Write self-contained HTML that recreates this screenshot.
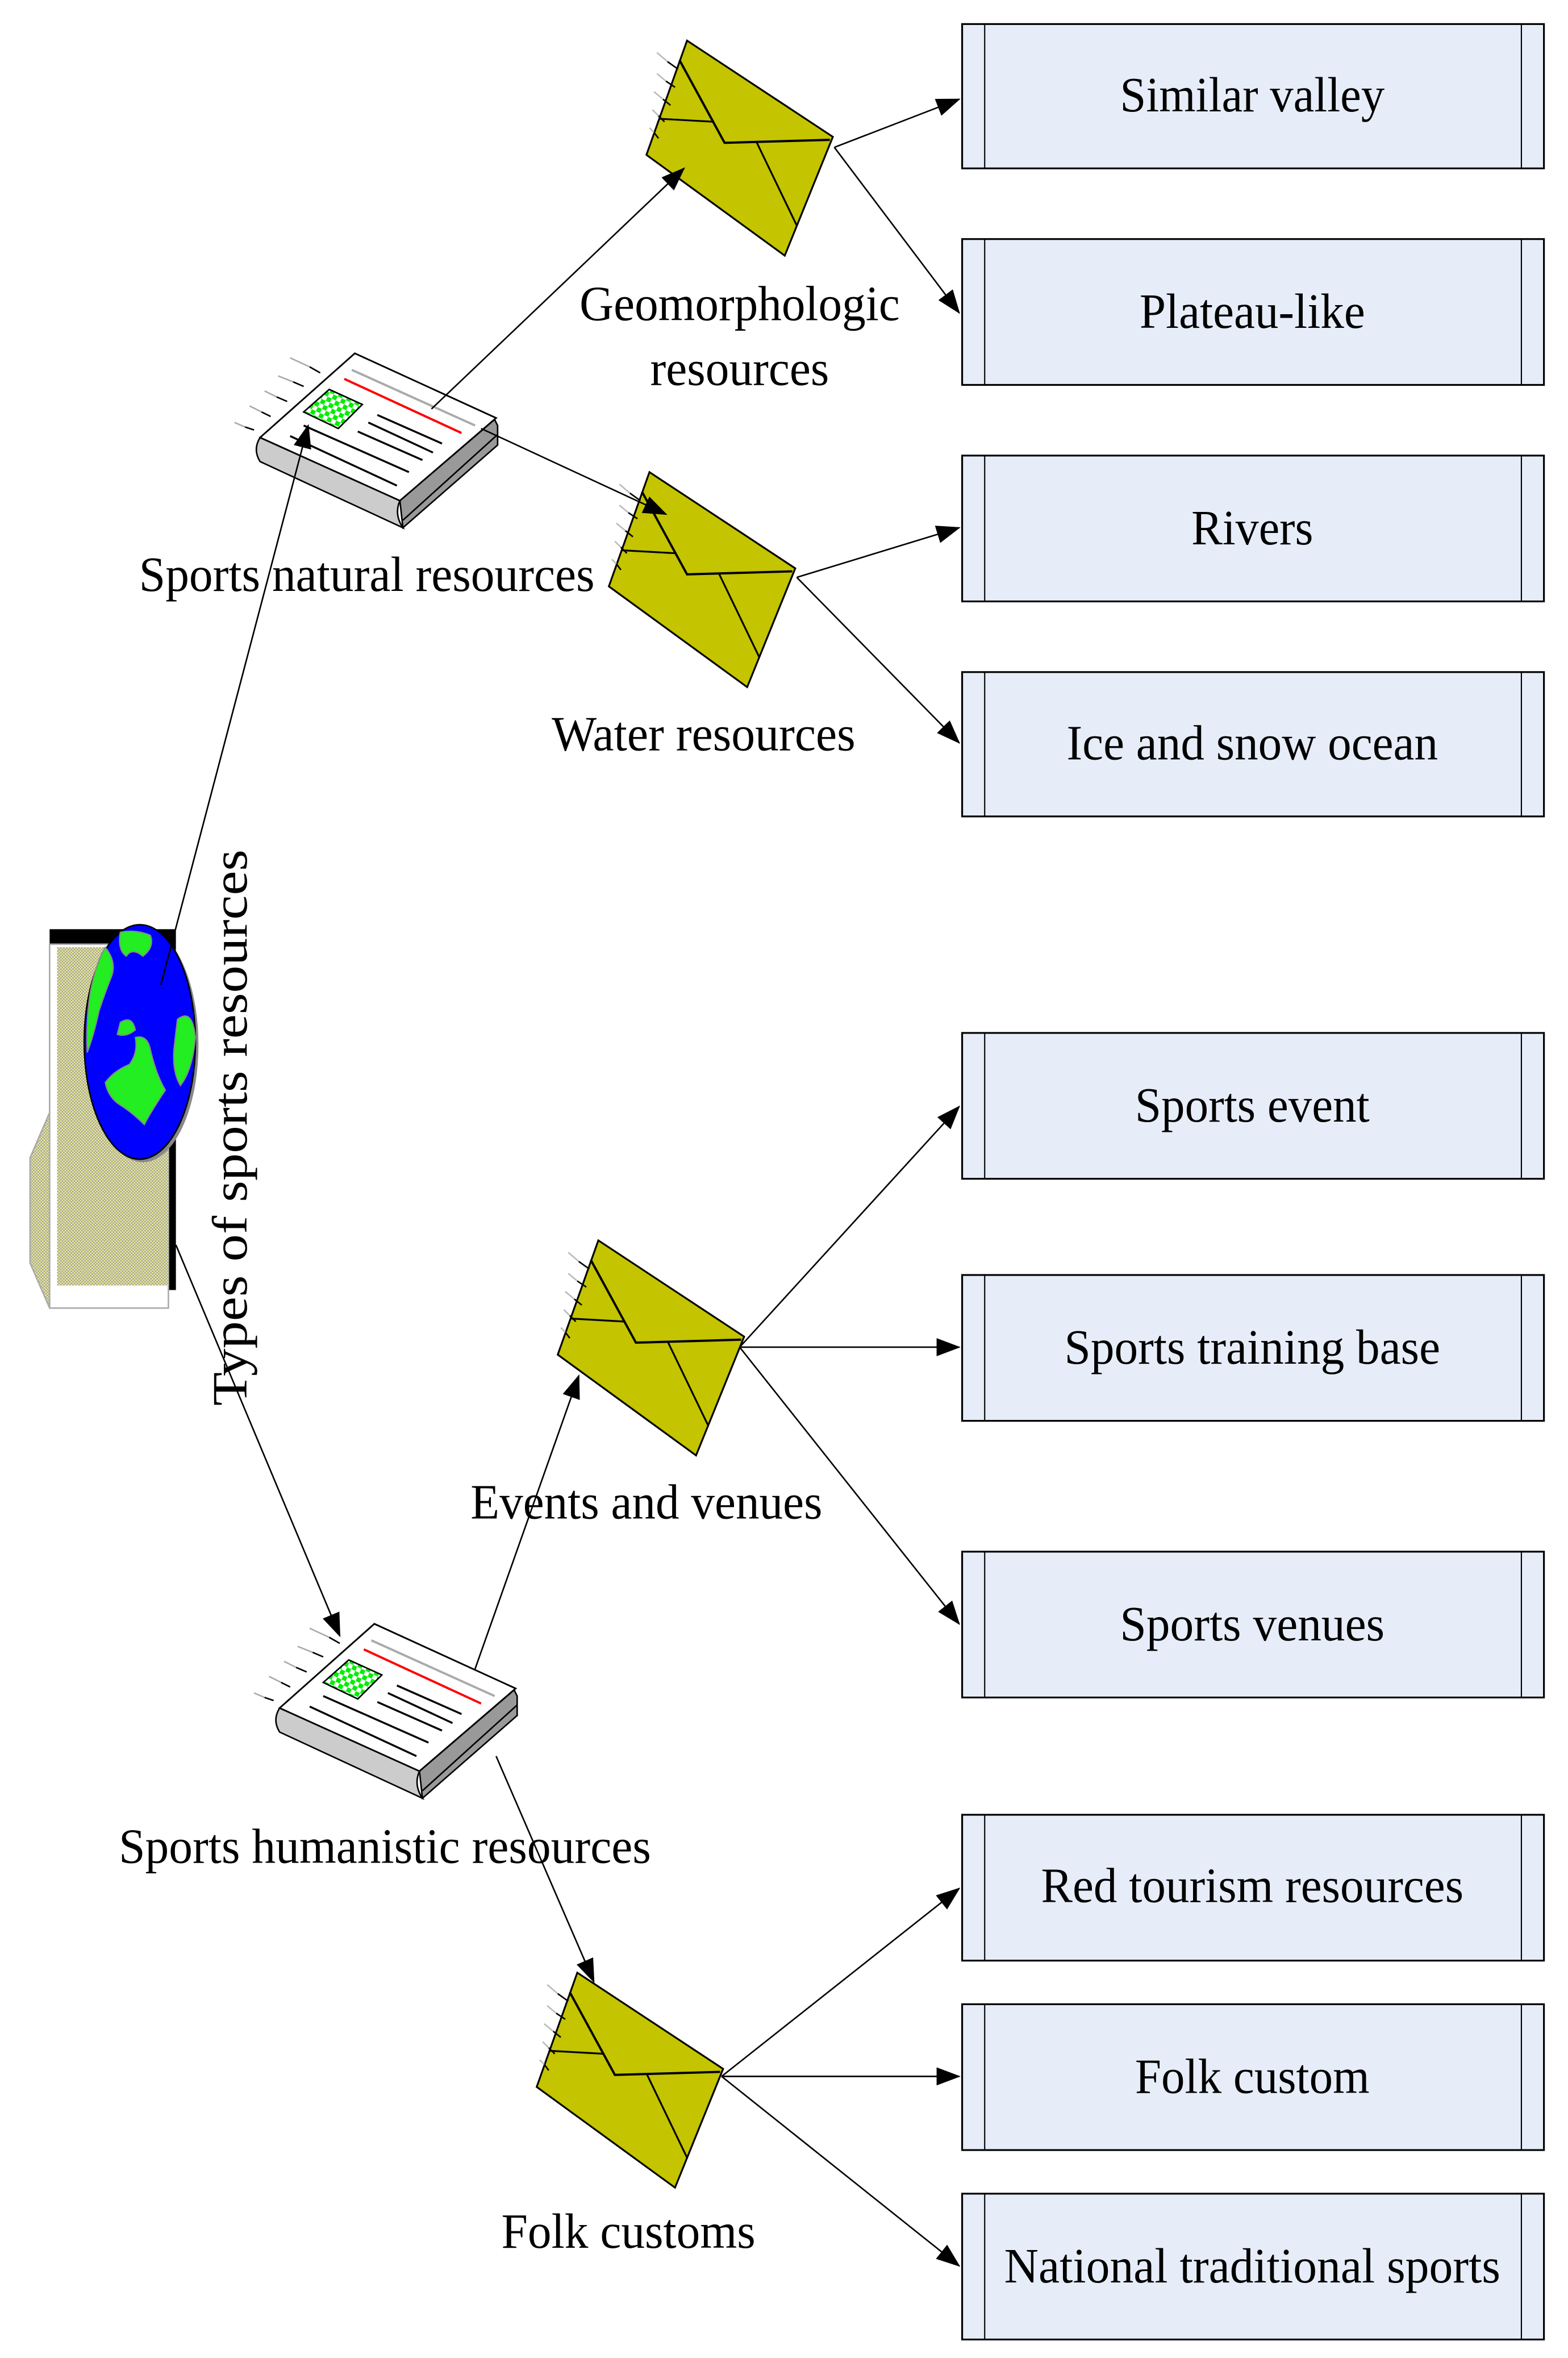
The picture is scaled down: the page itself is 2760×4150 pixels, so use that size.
<!DOCTYPE html>
<html><head><meta charset="utf-8"><style>
html,body{margin:0;padding:0;background:#fff}
svg{display:block}
text{font-family:"Liberation Serif",serif;font-size:33px;fill:#000}
</style></head><body>
<svg width="2760" height="4150" viewBox="0 0 1043 1568.3" xmlns="http://www.w3.org/2000/svg">
<defs>
<marker id="ah" markerWidth="16" markerHeight="12" refX="15" refY="6" orient="auto" markerUnits="userSpaceOnUse">
<path d="M0,0 L16,6 L0,12 Z" fill="#000"/></marker>
<pattern id="gck" width="6" height="6" patternUnits="userSpaceOnUse" patternTransform="rotate(25)">
<rect width="6" height="6" fill="#fff"/><rect width="3" height="3" fill="#00ee00"/><rect x="3" y="3" width="3" height="3" fill="#00ee00"/></pattern>
<pattern id="yck" width="2" height="2" patternUnits="userSpaceOnUse">
<rect width="2" height="2" fill="#f0f090"/><rect width="1" height="1" fill="#a0a0a0"/><rect x="1" y="1" width="1" height="1" fill="#a0a0a0"/></pattern>
<g id="env">
<polygon points="457,27 554,91 522,170 430,103" fill="#c4c400" stroke="#000" stroke-width="1.2"/>
<polyline points="452,40 482,95 552,93" fill="none" stroke="#000" stroke-width="1.5"/>
<line x1="439" y1="79" x2="475" y2="81" stroke="#000" stroke-width="1.2"/>
<line x1="503" y1="94" x2="530" y2="150" stroke="#000" stroke-width="1.2"/>
<g stroke-width="1">
<line x1="437" y1="35" x2="444" y2="41" stroke="#bbb"/><line x1="444" y1="41" x2="451" y2="46" stroke="#000"/>
<line x1="437" y1="49" x2="443" y2="54" stroke="#bbb"/><line x1="443" y1="54" x2="449" y2="58" stroke="#000"/>
<line x1="435" y1="61" x2="441" y2="66" stroke="#bbb"/><line x1="441" y1="66" x2="446" y2="70" stroke="#000"/>
<line x1="434" y1="73" x2="438" y2="77" stroke="#bbb"/><line x1="438" y1="77" x2="442" y2="81" stroke="#000"/>
<line x1="432" y1="85" x2="435" y2="88" stroke="#bbb"/><line x1="435" y1="88" x2="438" y2="92" stroke="#000"/>
</g>
</g>
<g id="news">
<path d="M173,307 Q168,299 173,291 L266,333 Q262,342 268,351 Z" fill="#ccc" stroke="#000" stroke-width="1"/>
<polygon points="329,279 331,283 331,296 268,351 266,333" fill="#999" stroke="#000" stroke-width="1"/>
<line x1="268" y1="346" x2="331" y2="289" stroke="#000" stroke-width="1"/>
<polygon points="236,235 330,278 266,333 173,291" fill="#fff" stroke="#000" stroke-width="1.1"/>
<line x1="234" y1="246" x2="316" y2="283" stroke="#aaa" stroke-width="1.5"/>
<line x1="229" y1="252" x2="307" y2="288" stroke="#f00" stroke-width="1.5"/>
<polygon points="202,274 219,259 241,269 225,285" fill="url(#gck)" stroke="#000" stroke-width="1"/>
<g stroke="#000" stroke-width="1.3">
<line x1="251" y1="276" x2="294" y2="295"/><line x1="245" y1="281" x2="288" y2="301"/>
<line x1="238" y1="287" x2="281" y2="306"/><line x1="202" y1="283" x2="272" y2="314"/>
<line x1="193" y1="290" x2="264" y2="323"/></g>
<g stroke-width="1">
<line x1="193" y1="238" x2="206" y2="244" stroke="#aaa"/><line x1="206" y1="244" x2="213" y2="248" stroke="#000"/>
<line x1="185" y1="250" x2="195" y2="254" stroke="#aaa"/><line x1="195" y1="254" x2="202" y2="257" stroke="#000"/>
<line x1="176" y1="260" x2="184" y2="264" stroke="#aaa"/><line x1="184" y1="264" x2="191" y2="267" stroke="#000"/>
<line x1="166" y1="270" x2="174" y2="274" stroke="#aaa"/><line x1="174" y1="274" x2="180" y2="277" stroke="#000"/>
<line x1="156" y1="281" x2="163" y2="284" stroke="#aaa"/><line x1="163" y1="284" x2="169" y2="286" stroke="#000"/>
</g>
</g>
</defs>

<!-- boxes -->
<g fill="#e6edf8" stroke="#000" stroke-width="1.2">
<rect x="640" y="16" width="387" height="96"/><rect x="640" y="159" width="387" height="97"/>
<rect x="640" y="303" width="387" height="97"/><rect x="640" y="447" width="387" height="96"/>
<rect x="640" y="687" width="387" height="97"/><rect x="640" y="848" width="387" height="97"/>
<rect x="640" y="1032" width="387" height="97"/><rect x="640" y="1207" width="387" height="97"/>
<rect x="640" y="1333" width="387" height="97"/><rect x="640" y="1459" width="387" height="97"/>
</g>
<g stroke="#000" stroke-width="0.8">
<path d="M655,16v96M1012,16v96M655,159v97M1012,159v97M655,303v97M1012,303v97M655,447v96M1012,447v96M655,687v97M1012,687v97M655,848v97M1012,848v97M655,1032v97M1012,1032v97M655,1207v97M1012,1207v97M655,1333v97M1012,1333v97M655,1459v97M1012,1459v97"/>
</g>
<g text-anchor="middle">
<text x="833" y="74" textLength="176" lengthAdjust="spacingAndGlyphs">Similar valley</text>
<text x="833" y="218" textLength="150" lengthAdjust="spacingAndGlyphs">Plateau-like</text>
<text x="833" y="362" textLength="81" lengthAdjust="spacingAndGlyphs">Rivers</text>
<text x="833" y="505" textLength="247" lengthAdjust="spacingAndGlyphs">Ice and snow ocean</text>
<text x="833" y="746" textLength="156" lengthAdjust="spacingAndGlyphs">Sports event</text>
<text x="833" y="907" textLength="250" lengthAdjust="spacingAndGlyphs">Sports training base</text>
<text x="833" y="1091" textLength="176" lengthAdjust="spacingAndGlyphs">Sports venues</text>
<text x="833" y="1265" textLength="281" lengthAdjust="spacingAndGlyphs">Red tourism resources</text>
<text x="833" y="1392" textLength="156" lengthAdjust="spacingAndGlyphs">Folk custom</text>
<text x="833" y="1518" textLength="330" lengthAdjust="spacingAndGlyphs">National traditional sports</text>
<text x="492" y="213" textLength="213" lengthAdjust="spacingAndGlyphs">Geomorphologic</text>
<text x="492" y="256" textLength="119" lengthAdjust="spacingAndGlyphs">resources</text>
<text x="244" y="393" textLength="303" lengthAdjust="spacingAndGlyphs">Sports natural resources</text>
<text x="468" y="499" textLength="202" lengthAdjust="spacingAndGlyphs">Water resources</text>
<text x="430" y="1010" textLength="234" lengthAdjust="spacingAndGlyphs">Events and venues</text>
<text x="256" y="1239" textLength="354" lengthAdjust="spacingAndGlyphs">Sports humanistic resources</text>
<text x="418" y="1495" textLength="169" lengthAdjust="spacingAndGlyphs">Folk customs</text>
<text x="0" y="0" transform="translate(164,750) rotate(-90)" textLength="370" lengthAdjust="spacingAndGlyphs">Types of sports resources</text>
</g>

<!-- globe graphic -->
<polygon points="33,740 20,770 20,840 33,870" fill="url(#yck)" stroke="#aaa" stroke-width="1"/>
<rect x="33" y="618" width="84" height="240" fill="#000"/>
<rect x="33" y="628" width="79" height="242" fill="#fff" stroke="#aaa" stroke-width="1"/>
<rect x="38" y="630" width="74" height="225" fill="url(#yck)"/>
<ellipse cx="95" cy="695" rx="37" ry="78" fill="#888"/>
<ellipse cx="93" cy="693" rx="37" ry="78" fill="#0000ff" stroke="#000" stroke-width="1"/>
<g fill="#22ee22" stroke="#888" stroke-width="0.8">
<path d="M80,620 Q90,618 100,622 Q103,630 95,636 Q88,630 84,636 Q78,632 80,620Z"/>
<path d="M70,630 Q78,640 74,650 Q70,660 66,672 Q62,690 58,700 Q57,680 60,660 Q64,640 70,630Z"/>
<path d="M80,680 Q88,675 90,685 Q84,690 78,688Z"/>
<path d="M90,690 Q98,688 100,698 Q104,715 110,725 Q100,740 96,748 Q88,740 80,735 Q72,730 70,720 Q76,712 86,708 Q92,700 90,690Z"/>
<path d="M118,678 Q128,670 130,690 Q128,712 120,722 Q114,712 116,695Z"/>
</g>

<!-- envelopes -->
<use href="#env"/>
<use href="#env" transform="translate(-25,287)"/>
<use href="#env" transform="translate(-59,798)"/>
<use href="#env" transform="translate(-73,1285)"/>

<!-- newspapers -->
<use href="#news"/>
<use href="#news" transform="translate(13,845)"/>

<!-- connectors -->
<g stroke="#000" stroke-width="1" marker-end="url(#ah)" fill="none">
<line x1="107" y1="655" x2="205" y2="283"/>
<line x1="117" y1="828" x2="226" y2="1088"/>
<line x1="287" y1="272" x2="455" y2="112"/>
<line x1="320" y1="285" x2="443" y2="342"/>
<line x1="555" y1="98" x2="638" y2="66"/>
<line x1="555" y1="98" x2="638" y2="208"/>
<line x1="530" y1="384" x2="638" y2="351"/>
<line x1="530" y1="384" x2="638" y2="494"/>
<line x1="316" y1="1110" x2="385" y2="915"/>
<line x1="330" y1="1168" x2="395" y2="1318"/>
<line x1="492" y1="896" x2="638" y2="736"/>
<line x1="492" y1="896" x2="638" y2="896"/>
<line x1="492" y1="896" x2="638" y2="1080"/>
<line x1="480" y1="1381" x2="638" y2="1256"/>
<line x1="480" y1="1381" x2="638" y2="1381"/>
<line x1="480" y1="1381" x2="638" y2="1507"/>
</g>
</svg>
</body></html>
